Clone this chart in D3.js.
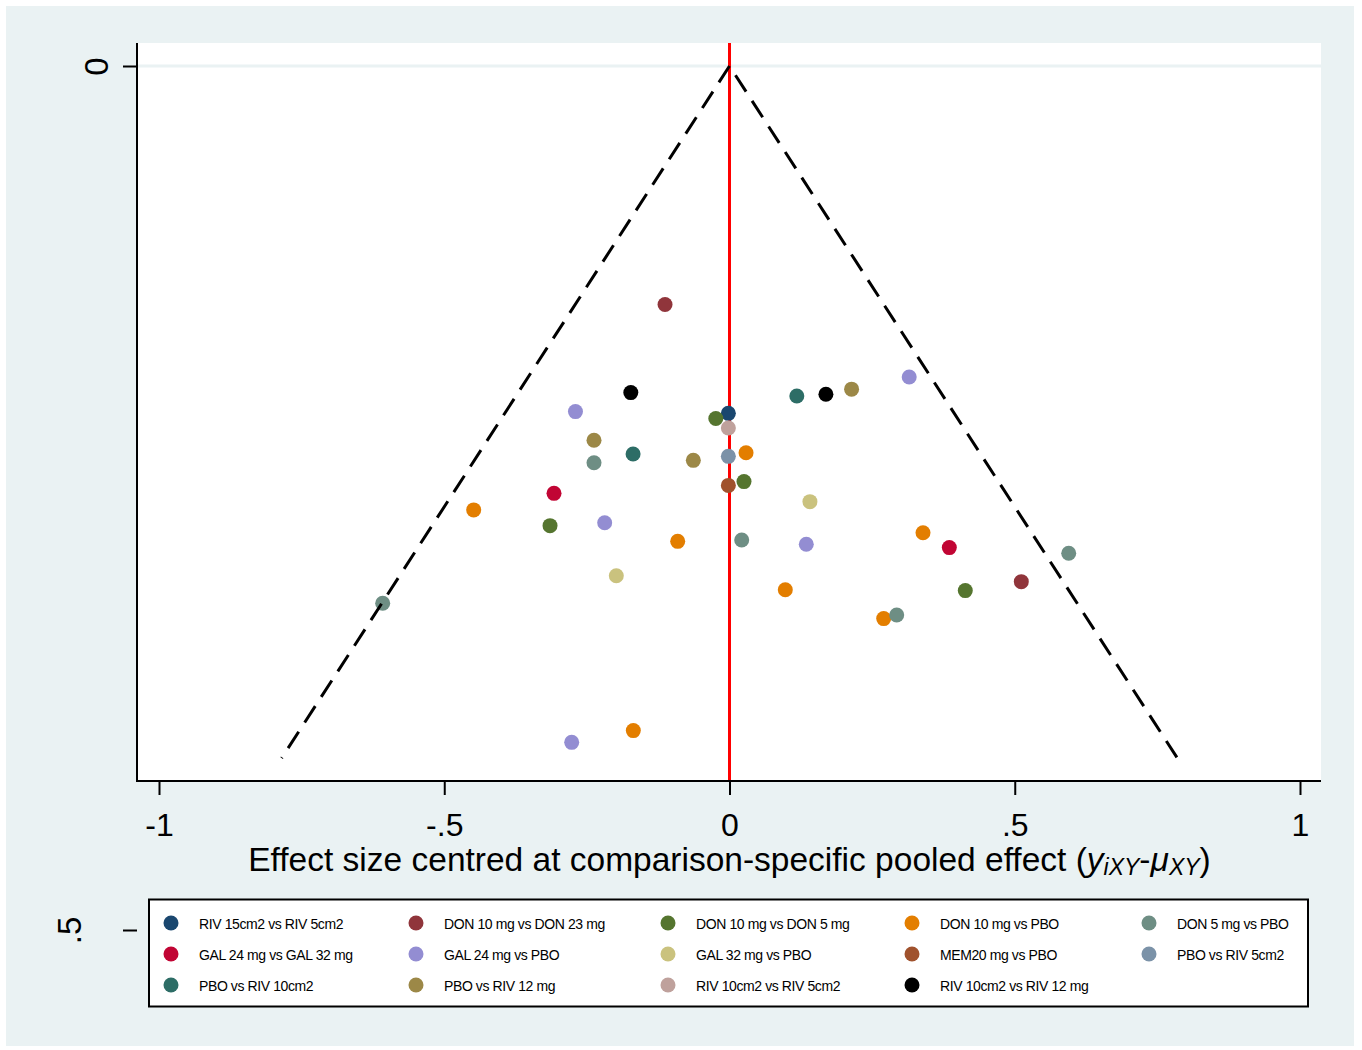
<!DOCTYPE html>
<html>
<head>
<meta charset="utf-8">
<script src="https://cdn.jsdelivr.net/npm/d3@7"></script>
<style>
  html, body { margin: 0; padding: 0; background: #ffffff; }
  svg { display: block; font-family: "Liberation Sans", Arial, sans-serif; }
</style>
</head>
<body>
<svg id="chart" width="1362" height="1050"></svg>
<script>
// ---------- data ----------
const seriesNames = [
  "RIV 15cm2 vs RIV 5cm2", "DON 10 mg vs DON 23 mg", "DON 10 mg vs DON 5 mg", "DON 10 mg vs PBO", "DON 5 mg vs PBO",
  "GAL 24 mg vs GAL 32 mg", "GAL 24 mg vs PBO", "GAL 32 mg vs PBO", "MEM20 mg vs PBO", "PBO vs RIV 5cm2",
  "PBO vs RIV 10cm2", "PBO vs RIV 12 mg", "RIV 10cm2 vs RIV 5cm2", "RIV 10cm2 vs RIV 12 mg"
];
const seriesColors = [
  "#1a476f", "#90353b", "#55752f", "#e37e00", "#6e8e84",
  "#c10534", "#938dd2", "#cac27e", "#a0522d", "#7b92a8",
  "#2d6d66", "#9c8847", "#bfa19c", "#000000"
];
// each study: comparison, centred effect, standard error
const pointSeries = [
  "DON 10 mg vs DON 23 mg", "RIV 10cm2 vs RIV 12 mg", "RIV 10cm2 vs RIV 12 mg", "PBO vs RIV 10cm2", "PBO vs RIV 12 mg",
  "GAL 24 mg vs PBO", "GAL 24 mg vs PBO", "DON 10 mg vs DON 5 mg", "RIV 15cm2 vs RIV 5cm2", "RIV 10cm2 vs RIV 5cm2",
  "PBO vs RIV 12 mg", "DON 5 mg vs PBO", "PBO vs RIV 10cm2", "PBO vs RIV 12 mg", "PBO vs RIV 5cm2",
  "DON 10 mg vs PBO", "MEM20 mg vs PBO", "DON 10 mg vs DON 5 mg", "GAL 32 mg vs PBO", "GAL 24 mg vs GAL 32 mg",
  "DON 10 mg vs PBO", "DON 10 mg vs DON 5 mg", "GAL 24 mg vs PBO", "DON 10 mg vs PBO", "GAL 32 mg vs PBO",
  "DON 5 mg vs PBO", "DON 5 mg vs PBO", "GAL 24 mg vs PBO", "DON 10 mg vs PBO", "DON 10 mg vs PBO",
  "GAL 24 mg vs GAL 32 mg", "DON 5 mg vs PBO", "DON 10 mg vs DON 23 mg", "DON 10 mg vs DON 5 mg", "DON 10 mg vs PBO",
  "DON 5 mg vs PBO", "GAL 24 mg vs PBO", "DON 10 mg vs PBO"
];
const pointEffect = [
  -0.113, -0.173, 0.169, 0.118, 0.214,
  0.315, -0.270, -0.024, -0.002, -0.002,
  -0.2375, -0.2375, -0.169, -0.0634, -0.002,
  0.029, -0.002, 0.0254, 0.141, -0.3076,
  -0.4484, -0.3146, -0.2188, -0.0908, -0.1984,
  -0.6079, 0.0214, 0.1346, 0.0978, 0.3392,
  0.3853, 0.5946, 0.5115, 0.4133, 0.2703,
  0.2931, -0.2766, -0.1686
];
const pointSE = [
  0.138, 0.189, 0.190, 0.191, 0.187,
  0.180, 0.200, 0.204, 0.201, 0.2095,
  0.2166, 0.2296, 0.2245, 0.2282, 0.2259,
  0.2238, 0.2427, 0.2405, 0.2521, 0.2473,
  0.2569, 0.266, 0.2643, 0.2751, 0.2950,
  0.3109, 0.2743, 0.2768, 0.3031, 0.2701,
  0.2787, 0.2820, 0.2984, 0.3036, 0.3198,
  0.3177, 0.3914, 0.3846
];
const xTicks = [-1, -0.5, 0, 0.5, 1];
const xTickLabels = ["-1", "-.5", "0", ".5", "1"];
const yTicks = [0, 0.5];
const yTickLabels = ["0", ".5"];
const funnelMaxSE = 0.4005;
const zCrit = 1.96;

// ---------- layout ----------
const svg = d3.select("#chart");
const W = 1362, H = 1050;
const plot = { left: 137, top: 43, right: 1321, bottom: 781 };

const x = d3.scaleLinear().domain([-1, 1]).range([159, 1300]);
const y = d3.scaleLinear().domain([0, 0.5]).range([66, 930]);
const color = d3.scaleOrdinal().domain(seriesNames).range(seriesColors);

// backgrounds
svg.append("rect").attr("x", 0).attr("y", 0).attr("width", W).attr("height", H).attr("fill", "#ffffff");
svg.append("rect").attr("x", 6).attr("y", 6).attr("width", 1348).attr("height", 1040).attr("fill", "#eaf2f3");
svg.append("rect").attr("x", plot.left).attr("y", plot.top)
  .attr("width", plot.right - plot.left).attr("height", plot.bottom - plot.top).attr("fill", "#ffffff");

// gridline at y = 0
svg.append("line")
  .attr("x1", plot.left).attr("x2", plot.right)
  .attr("y1", y(0)).attr("y2", y(0))
  .attr("stroke", "#eaf2f3").attr("stroke-width", 3);

// reference line at 0
svg.append("line")
  .attr("x1", x(0)).attr("x2", x(0))
  .attr("y1", plot.top).attr("y2", plot.bottom)
  .attr("stroke", "#ff0000").attr("stroke-width", 3);

// points
const points = pointEffect.map((e, i) => ({ s: pointSeries[i], e, se: pointSE[i] }))
  .sort((a, b) => seriesNames.indexOf(a.s) - seriesNames.indexOf(b.s));
svg.append("g").selectAll("circle").data(points).join("circle")
  .attr("cx", d => x(d.e)).attr("cy", d => y(d.se)).attr("r", 7.5)
  .attr("fill", d => color(d.s));

// pseudo confidence funnel
const funnelLeft = [[0, 0], [-zCrit * funnelMaxSE, funnelMaxSE]];
const funnelRight = [[0, 0], [zCrit * funnelMaxSE, funnelMaxSE]];
const line = d3.line().x(d => x(d[0])).y(d => y(d[1]));
[[funnelLeft, 0], [funnelRight, 19.5]].forEach(([f, off]) => {
  svg.append("path").attr("d", line(f))
    .attr("fill", "none").attr("stroke", "#000").attr("stroke-width", 3)
    .attr("stroke-dasharray", "19.5,11").attr("stroke-dashoffset", off);
});

// plot borders (left and bottom)
svg.append("line").attr("x1", plot.left).attr("x2", plot.left).attr("y1", plot.top).attr("y2", plot.bottom + 1)
  .attr("stroke", "#000").attr("stroke-width", 2);
svg.append("line").attr("x1", plot.left).attr("x2", plot.right).attr("y1", plot.bottom).attr("y2", plot.bottom)
  .attr("stroke", "#000").attr("stroke-width", 2);

// x axis
const xAxis = d3.axisBottom(x).tickValues(xTicks).tickSize(14).tickSizeOuter(0)
  .tickFormat((d, i) => xTickLabels[i]);
const gx = svg.append("g").attr("transform", `translate(0,${plot.bottom})`).call(xAxis);
gx.select(".domain").remove();
gx.selectAll(".tick line").attr("stroke", "#000").attr("stroke-width", 2);
gx.selectAll(".tick text").attr("fill", "#000").attr("font-size", 32).attr("dy", null).attr("y", 55)
  .attr("font-family", "'Liberation Sans', Arial, sans-serif");

// y axis
const yAxis = d3.axisLeft(y).tickValues(yTicks).tickSize(14).tickSizeOuter(0)
  .tickFormat((d, i) => yTickLabels[i]);
const gy = svg.append("g").attr("transform", `translate(${plot.left},0)`).call(yAxis);
gy.select(".domain").remove();
gy.selectAll(".tick line").attr("stroke", "#000").attr("stroke-width", 2);
gy.selectAll(".tick text")
  .attr("fill", "#000").attr("font-size", 33).attr("font-family", "'Liberation Sans', Arial, sans-serif")
  .attr("x", null).attr("dy", null).attr("text-anchor", "middle")
  .attr("transform", (d, i) => i === 0 ? "translate(-29,0) rotate(-90)" : "translate(-56,0) rotate(-90)");

// x axis title
const title = svg.append("text").attr("x", 729.5).attr("y", 871)
  .attr("text-anchor", "middle").attr("font-size", 33.5).attr("fill", "#000");
title.append("tspan").text("Effect size centred at comparison-specific pooled effect (");
title.append("tspan").attr("font-style", "italic").text("y");
title.append("tspan").attr("font-style", "italic").attr("font-size", 23).attr("dy", 4).text("iXY");
title.append("tspan").attr("dy", -4).text("-");
title.append("tspan").attr("font-style", "italic").text("μ");
title.append("tspan").attr("font-style", "italic").attr("font-size", 23).attr("dy", 4).text("XY");
title.append("tspan").attr("dy", -4).text(")");

// legend
const legend = svg.append("g");
legend.append("rect").attr("x", 149).attr("y", 899.5).attr("width", 1159).attr("height", 107)
  .attr("fill", "#fff").attr("stroke", "#000").attr("stroke-width", 2);
const colX = [171, 416, 668, 912, 1149];
const rowY = [923, 954, 985];
const items = legend.selectAll("g.item").data(seriesNames).join("g").attr("class", "item")
  .attr("transform", (d, i) => `translate(${colX[i % 5]},${rowY[Math.floor(i / 5)]})`);
items.append("circle").attr("r", 7.5).attr("fill", d => color(d));
items.append("text").attr("x", 28).attr("y", 5.5).attr("font-size", 14).attr("letter-spacing", -0.4)
  .attr("fill", "#000").text(d => d);
</script>
</body>
</html>
